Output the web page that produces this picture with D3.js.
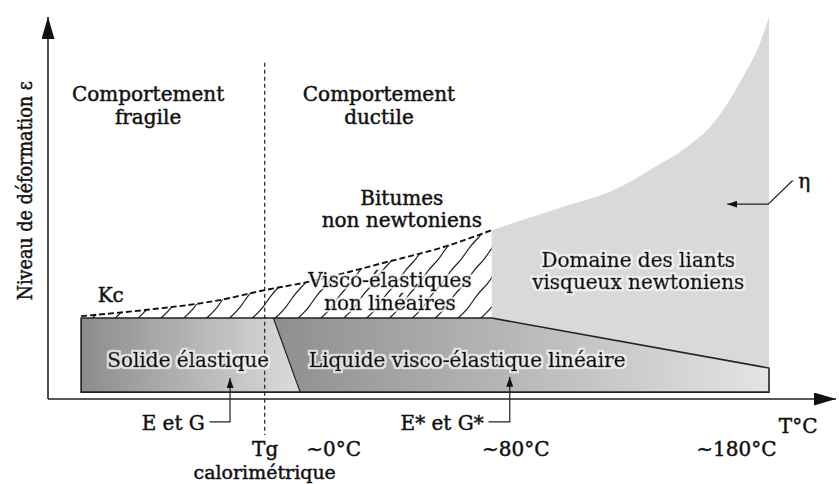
<!DOCTYPE html>
<html>
  <head>
    <meta charset="utf-8">
    <script src="https://d3js.org/d3.v7.min.js"></script>
    <title>Comportement des bitumes</title>
    <style>
      body { margin: 0; background: #fff; }
      svg text {
        font-family: "DejaVu Serif", "Liberation Serif", serif;
        fill: #111;
      }
      .lbl { font-size: 20px; stroke: #111; stroke-width: 0.45px; }
      .lbl.onGrey { stroke-width: 0.7px; }
      .ylabel {
        font-family: "DejaVu Serif Condensed", "DejaVu Serif", serif;
        font-stretch: condensed;
      }
      .tick text { font-size: 20px; stroke: #111; stroke-width: 0.45px; fill: #111; }
      .domain { display: none; }
    </style>
  </head>
  <body>
    <svg width="839" height="484"></svg>
    <script>
      // schematic units: x = temperature axis, y = niveau de deformation (0..100)
      const tgX = 27.5;
      const bandX = [4.2, 91.5];          // left / right of the bottom band
      const bandY = [1.8, 21.2];          // bottom / top of the band
      const bandRightTop = 8.1;           // band top at right edge
      const splitX = [28.6, 32.0];        // solide / liquide boundary (top, bottom)
      const newtonX = 56.3;               // start of newtonian domain

      // Kc dashed limit
      const kcX = [4.2, 12.3, 21.8, 27.5, 32.9, 42.5, 51.0, 56.3];
      const kcY = [21.7, 23.3, 25.9, 28.5, 30.6, 35.6, 40.3, 44.2];

      // viscosity curve eta
      const etaX = [56.3, 64.1, 72.6, 76.8, 81.1, 84.0, 86.5, 88.2, 90.0, 91.5];
      const etaY = [44.2, 49.5, 55.5, 60.5, 66.0, 71.2, 78.3, 84.3, 91.4, 100];

      const tickValues = [tgX, 36.2, 59.3, 87.3];
      const tickLabels = ['Tg', '~0°C', '~80°C', '~180°C'];

      const svg = d3.select('svg');
      const x = d3.scaleLinear().domain([0, 100]).range([48, 836]);
      const y = d3.scaleLinear().domain([0, 100]).range([399, 17]);

      const defs = svg.append('defs');
      const grad = (id, c0, c1) => {
        const g = defs.append('linearGradient').attr('id', id)
          .attr('x1', 0).attr('x2', 1).attr('y1', 0).attr('y2', 0);
        g.append('stop').attr('offset', '0%').attr('stop-color', c0);
        g.append('stop').attr('offset', '100%').attr('stop-color', c1);
      };
      grad('gSolid', '#8c8c8c', '#dcdcdc');
      grad('gLiquid', '#8e8e8e', '#e4e4e4');

      // light glow behind the labels sitting on grey
      const glow = defs.append('filter').attr('id', 'glow')
        .attr('x', '-5%').attr('y', '-30%').attr('width', '110%').attr('height', '160%');
      glow.append('feMorphology').attr('in', 'SourceAlpha')
        .attr('operator', 'dilate').attr('radius', 1.6).attr('result', 'thick');
      glow.append('feFlood').attr('flood-color', '#f8f8f8').attr('flood-opacity', 0.75);
      glow.append('feComposite').attr('in2', 'thick').attr('operator', 'in').attr('result', 'halo');
      const merge = glow.append('feMerge');
      merge.append('feMergeNode').attr('in', 'halo');
      merge.append('feMergeNode').attr('in', 'SourceGraphic');

      const mkArrow = (id, w, h) => {
        defs.append('marker').attr('id', id)
          .attr('viewBox', `0 0 ${w} ${h}`).attr('refX', w).attr('refY', h / 2)
          .attr('markerWidth', w).attr('markerHeight', h)
          .attr('markerUnits', 'userSpaceOnUse')
          .attr('orient', 'auto')
          .append('path').attr('d', `M0,0L${w},${h / 2}L0,${h}Z`).attr('fill', '#111');
      };
      mkArrow('bigArrow', 22, 13);
      mkArrow('smallArrow', 10, 7);

      const line = d3.line().x(d => x(d[0])).y(d => y(d[1]));
      const curve = d3.line().x(d => x(d[0])).y(d => y(d[1])).curve(d3.curveMonotoneX);

      // newtonian domain (grey)
      const etaPts = etaX.map((v, i) => [v, etaY[i]]);
      const newtonArea = curve(etaPts) +
        'L' + x(bandX[1]) + ',' + y(bandRightTop) +
        'L' + x(newtonX) + ',' + y(bandY[1]) + 'Z';
      svg.append('path').attr('d', newtonArea).attr('fill', '#d9d9d9');

      // hatched non-linear zone
      const kcPts = kcX.map((v, i) => [v, kcY[i]]);
      const hatchArea = curve(kcPts) +
        'L' + x(newtonX) + ',' + y(bandY[1]) +
        'L' + x(bandX[0]) + ',' + y(bandY[1]) + 'Z';
      defs.append('clipPath').attr('id', 'hatchClip')
        .append('path').attr('d', hatchArea);
      const hatchG = svg.append('g').attr('clip-path', 'url(#hatchClip)');
      const base = y(bandY[1]) + 1;
      d3.range(-3, 60, 2.9).forEach(u => {
        const x0 = x(u);
        const pts = [];
        for (let k = 0; k <= 8; k++) {
          const h = k * 12;
          pts.push([x0 + h * 0.8 + (k % 2 ? 1.5 : -1.5), base - h]);
        }
        hatchG.append('path').attr('d', d3.line().curve(d3.curveBasis)(pts))
          .attr('fill', 'none').attr('stroke', '#222').attr('stroke-width', 1.2);
      });

      // Kc dashed limit
      svg.append('path').attr('d', curve(kcPts))
        .attr('fill', 'none').attr('stroke', '#111')
        .attr('stroke-width', 1.9).attr('stroke-dasharray', '6,3');

      // bottom band: solide / liquide
      const solid = [[bandX[0], bandY[0]], [bandX[0], bandY[1]], [splitX[0], bandY[1]], [splitX[1], bandY[0]]];
      const liquid = [[splitX[0], bandY[1]], [newtonX, bandY[1]], [bandX[1], bandRightTop], [bandX[1], bandY[0]], [splitX[1], bandY[0]]];
      svg.append('path').attr('d', line(solid) + 'Z').attr('fill', 'url(#gSolid)');
      svg.append('path').attr('d', line(liquid) + 'Z').attr('fill', 'url(#gLiquid)');
      const outline = [[bandX[0], bandY[0]], [bandX[0], bandY[1]], [newtonX, bandY[1]], [bandX[1], bandRightTop], [bandX[1], bandY[0]]];
      svg.append('path').attr('d', line(outline) + 'Z')
        .attr('fill', 'none').attr('stroke', '#222').attr('stroke-width', 1.6);
      svg.append('path').attr('d', line([[splitX[0], bandY[1]], [splitX[1], bandY[0]]]))
        .attr('fill', 'none').attr('stroke', '#222').attr('stroke-width', 1.2);

      // Tg dashed vertical
      svg.append('path').attr('d', line([[tgX, 88], [tgX, -9.4]]))
        .attr('stroke', '#222').attr('stroke-width', 1.2).attr('stroke-dasharray', '4,3');

      // axes
      svg.append('path').attr('d', line([[0, 0], [100, 0]]))
        .attr('stroke', '#222').attr('stroke-width', 1.6).attr('marker-end', 'url(#bigArrow)');
      svg.append('path').attr('d', line([[0, 0], [0, 100]]))
        .attr('stroke', '#222').attr('stroke-width', 1.6).attr('marker-end', 'url(#bigArrow)');

      const xAxis = d3.axisBottom(x).tickValues(tickValues)
        .tickFormat((d, i) => tickLabels[i]).tickSize(0).tickPadding(42.5);
      svg.append('g').attr('transform', `translate(0,${y(0)})`).call(xAxis);

      // text labels
      const txt = (s, px, py, anchor, halo) => svg.append('text')
        .attr('class', halo ? 'lbl onGrey' : 'lbl')
        .attr('x', px).attr('y', py)
        .attr('filter', halo ? 'url(#glow)' : null)
        .attr('text-anchor', anchor || 'middle').text(s);

      txt('Comportement', x(12.7), y(78));
      txt('fragile', x(12.7), y(72));
      txt('Comportement', x(42), y(78));
      txt('ductile', x(42), y(72));
      txt('Bitumes', x(44.9), y(50.8));
      txt('non newtoniens', x(44.9), y(45.0));
      txt('Visco-élastiques', x(43.4), y(29.3), 'middle', true);
      txt('non linéaires', x(43.4), y(23.4), 'middle', true);
      txt('Kc', x(6.3), y(25.4), 'start');
      txt('Domaine des liants', x(74.9), y(34.6), 'middle', true);
      txt('visqueux newtoniens', x(74.9), y(28.8), 'middle', true);
      txt('Solide élastique', x(17.8), y(8.4), 'middle', true);
      txt('Liquide visco-élastique linéaire', x(53.2), y(8.4), 'middle', true);
      txt('E et G', x(19.9), y(-8.1), 'end');
      txt('E* et G*', x(55.3), y(-8.1), 'end');
      txt('T°C', x(95.2), y(-8.9), 'middle');
      txt('calorimétrique', x(tgX), y(-20.9), 'middle').style('font-size', '19px');
      txt('η', x(95.2), y(55.3), 'start');

      // small arrows
      const arrowLine = pts => svg.append('path').attr('d', line(pts))
        .attr('fill', 'none').attr('stroke', '#222').attr('stroke-width', 1.2)
        .attr('marker-end', 'url(#smallArrow)');
      arrowLine([[20.5, -6.0], [23.1, -6.0], [23.1, 5.5]]);
      arrowLine([[55.9, -6.0], [58.6, -6.0], [58.6, 5.8]]);
      arrowLine([[94.5, 57.2], [91.4, 51.0], [86.2, 51.0]]);

      // y label
      svg.append('text').attr('class', 'lbl ylabel')
        .attr('transform', `translate(32,${y(54.5)}) rotate(-90)`)
        .attr('text-anchor', 'middle').style('font-size', '19.5px')
        .text('Niveau de déformation ε');
    </script>
  </body>
</html>
